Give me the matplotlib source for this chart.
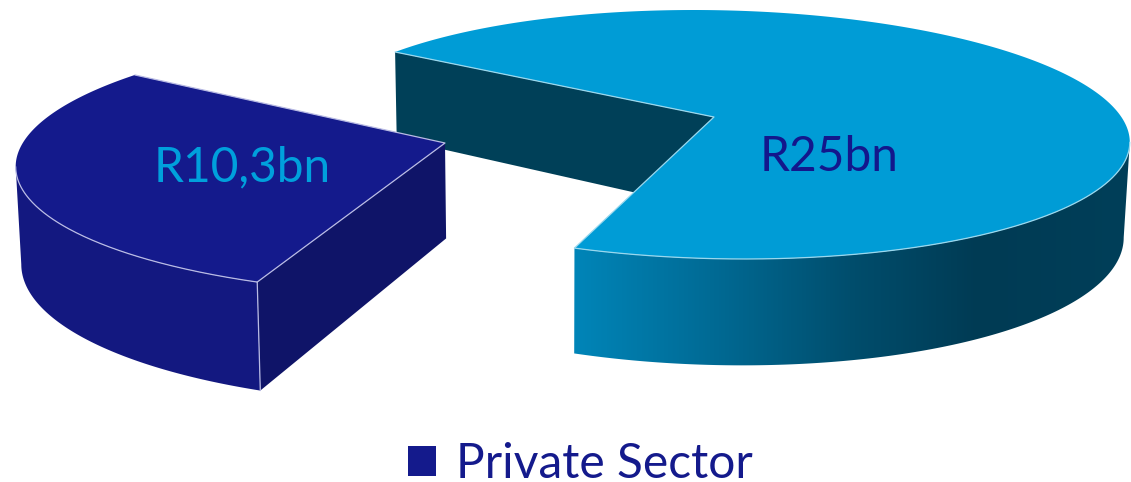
import numpy as np
import matplotlib
matplotlib.use("Agg")
import matplotlib.pyplot as plt
from matplotlib.colors import LinearSegmentedColormap
from matplotlib.patches import Patch, Polygon

# ---- data ----
slice_values = [25.0, 10.3]
slice_labels = ["R25bn", "R10,3bn"]
legend_labels = ["Private Sector"]

# ---- style ----
FONT = "Lato"
BIG_TOP, BIG_INNER = "#009CD6", "#004058"
SMALL_TOP, SMALL_WALL, SMALL_INNER = "#141A8C", "#131880", "#0F1468"
EDGE_BIG, EDGE_SMALL = "#9AD8EE", "#B9BBE4"
START_BIG, START_SMALL = 138.5, 139.5
PERSPECTIVE_GAP = 1.022   # the near side of the big slice's gap opens a little wider


def rim(t_deg, e):
    t = np.radians(t_deg)
    return (e["cx"] + e["w"] * np.cos(t) - e["k"] * np.sin(t),
            e["cy"] - e["ry"] * np.sin(t))


def drop(x, y):
    """Where a point on the top face lands on the bottom face (slight perspective)."""
    return x - (x - 550) * 0.0105, y + 82 + 0.094 * y


big = dict(cx=719, cy=134.5, w=410, k=25.4, ry=124.5, apex=(714, 117))
small = dict(cx=466, cy=161.6, w=450, k=-17, ry=133.4, apex=(445, 143))

gap = 360 * slice_values[1] / sum(slice_values)
big_tip, big_corner = START_BIG, START_BIG + gap * PERSPECTIVE_GAP
small_tip, small_corner = START_SMALL, START_SMALL + gap

# angles at which each rim reaches its outermost x (silhouette of the wall)
big_side = 360 + np.degrees(np.arctan2(-big["k"], big["w"]))
small_side = 180 + np.degrees(np.arctan2(-small["k"], small["w"]))

fig = plt.figure(figsize=(11.31, 4.82), dpi=100)
ax = fig.add_axes([0, 0, 1, 1])
ax.set_xlim(0, 1131)
ax.set_ylim(482, 0)
ax.axis("off")


def face(e, t0, t1):
    x, y = rim(np.linspace(t0, t1, 300), e)
    return np.column_stack([np.r_[e["apex"][0], x], np.r_[e["apex"][1], y]])


def wall_poly(e, t0, t1):
    x, y = rim(np.linspace(t0, t1, 300), e)
    bx, by = drop(x, y)
    return np.column_stack([np.r_[x, bx[::-1]], np.r_[y, by[::-1]]])


def inner_poly(e, t):
    x, y = rim(t, e)
    ax_, ay_ = e["apex"]
    bx, by = drop(x, y)
    abx, aby = drop(ax_, ay_)
    return [(x, y), (ax_, ay_), (abx, aby), (bx, by)]


def line(pts, color, lw=0.9, z=5):
    p = np.asarray(pts)
    ax.plot(p[:, 0], p[:, 1], color=color, lw=lw, zorder=z, solid_capstyle="round")


# big slice
ax.add_patch(Polygon(inner_poly(big, big_tip), fc=BIG_INNER, ec="none", zorder=1))
cmap = LinearSegmentedColormap.from_list(
    "wall", [(0, "#0085B8"), (0.25, "#006A94"), (0.5, "#004D6C"),
             (0.72, "#003B54"), (1, "#003F59")])
wall = Polygon(wall_poly(big, big_corner, big_side), fc="none", ec="none", zorder=2)
ax.add_patch(wall)
im = ax.imshow(np.linspace(0, 1, 512)[None, :], cmap=cmap, aspect="auto",
               extent=(574, 1135, 380, 100), zorder=2)
im.set_clip_path(wall)
ax.set_xlim(0, 1131)
ax.set_ylim(482, 0)
ax.add_patch(Polygon(face(big, big_corner - 360, big_tip), fc=BIG_TOP, ec="none", zorder=3))
rx, ry_ = rim(np.linspace(big_corner, big_side, 200), big)
line(np.column_stack([rx, ry_]), EDGE_BIG, z=4)
line([rim(big_tip, big), big["apex"], rim(big_corner, big)], EDGE_BIG, z=4)

# small slice
ax.add_patch(Polygon(wall_poly(small, small_side, small_corner), fc=SMALL_WALL, ec="none", zorder=6))
ax.add_patch(Polygon(inner_poly(small, small_corner), fc=SMALL_INNER, ec="none", zorder=6))
ax.add_patch(Polygon(face(small, small_tip, small_corner), fc=SMALL_TOP, ec="none", zorder=7))
rx, ry_ = rim(np.linspace(small_side, small_corner, 200), small)
line(np.column_stack([rx, ry_]), EDGE_SMALL, z=8)
line([rim(small_tip, small), small["apex"], rim(small_corner, small)], EDGE_SMALL, z=8)
cx_, cy_ = rim(small_corner, small)
line([(cx_, cy_), drop(cx_, cy_)], EDGE_SMALL, z=8)

# labels
ax.text(829.5, 157, slice_labels[0], color="#13178C", fontsize=34.5, family=FONT,
        ha="center", va="center", zorder=9)
ax.text(242.5, 167, slice_labels[1], color="#00A0DC", fontsize=34.5, family=FONT,
        ha="center", va="center", zorder=9)

# legend
ax.legend(handles=[Patch(fc=SMALL_TOP, ec="none", label=legend_labels[0])],
          loc="center", bbox_to_anchor=(580 / 1131, 1 - 464 / 482),
          frameon=False, prop={"family": FONT, "size": 34.5}, labelcolor=SMALL_TOP,
          handlelength=0.6, handleheight=0.6, handletextpad=0.4,
          borderpad=0, borderaxespad=0)

fig.savefig("out.png", dpi=100, facecolor="white")
